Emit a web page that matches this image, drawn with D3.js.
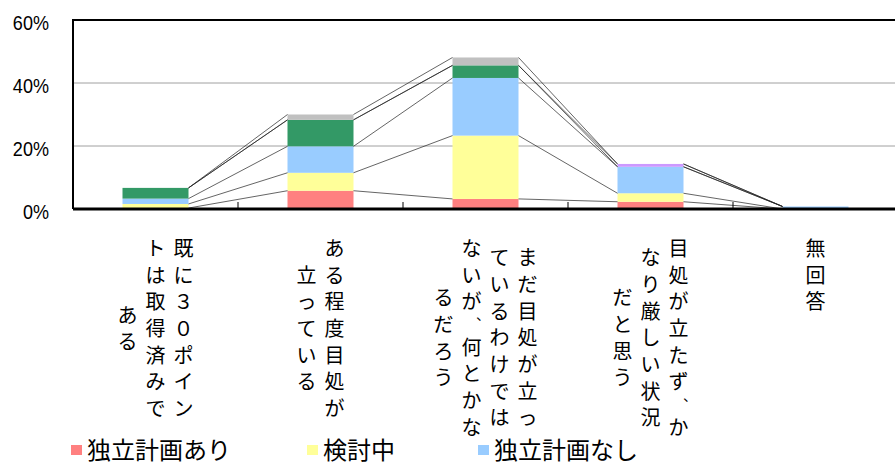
<!DOCTYPE html>
<html>
<head>
<meta charset="utf-8">
<script src="https://cdn.jsdelivr.net/npm/d3@7"></script>
<style>
  body { margin: 0; background: #fff; overflow: hidden; }
  svg { display: block; }
</style>
</head>
<body>
<div id="chart"></div>
<script>
// categories, with the column breaks used in the vertical labels
const categories = ["既に３０ポイントは取得済みである", "ある程度目処が立っている",
    "まだ目処が立っているわけではないが、何とかなるだろう", "目処が立たず、かなり厳しい状況だと思う", "無回答"];
const categoryColumns = [
    ["既に３０ポイン", "トは取得済みで", "ある"],
    ["ある程度目処が", "立っている"],
    ["まだ目処が立っ", "ているわけでは", "ないが、何とかな", "るだろう"],
    ["目処が立たず、か", "なり厳しい状況", "だと思う"],
    ["無回答"]
];

// series (percent), stacked bottom to top
const seriesNames = ["独立計画あり", "検討中", "独立計画なし", "その他", "わからない", "無回答"];
const seriesColors = ["#ff8080", "#ffff99", "#99ccff", "#339966", "#cc99ff", "#c0c0c0"];
const independentPlan = [0.3, 5.8, 3.2, 2.3, 0];
const underReview = [1.3, 5.7, 20.1, 2.7, 0];
const noIndependentPlan = [1.7, 8.4, 18.3, 8.4, 0.8];
const otherAnswer = [3.4, 8.4, 4.0, 0, 0];
const unknownAnswer = [0, 0, 0, 0.9, 0];
const noAnswer = [0, 1.7, 2.5, 0, 0];
const seriesValues = [independentPlan, underReview, noIndependentPlan, otherAnswer, unknownAnswer, noAnswer];

const yTicks = [0, 20, 40, 60];
// only the first legend row is inside the picture
const legendX = [71, 307, 478];

const width = 895, height = 465;
const plot = { left: 73, top: 20, right: 898, bottom: 209 };

const svg = d3.select('#chart').append('svg')
    .attr('width', width)
    .attr('height', height);

const x = d3.scaleBand().domain(categories).range([plot.left, plot.right]).padding(0);
const y = d3.scaleLinear().domain([0, 60]).range([plot.bottom, plot.top]);
const barW = x.bandwidth() * 0.4;

const rows = categories.map((c, i) => {
    const r = { cat: c };
    seriesNames.forEach((s, k) => { r[s] = seriesValues[k][i]; });
    return r;
});
const stacked = d3.stack().keys(seriesNames)(rows);

// gridlines
svg.append('g').selectAll('line')
    .data(yTicks.filter(t => t > 0 && t < 60))
    .enter().append('line')
    .attr('x1', plot.left).attr('x2', plot.right)
    .attr('y1', d => y(d)).attr('y2', d => y(d))
    .attr('stroke', '#a0a0a0').attr('stroke-width', 1);

// bars
const barX = c => x(c) + (x.bandwidth() - barW) / 2;
stacked.forEach((layer, k) => {
    svg.append('g').selectAll('rect')
        .data(layer)
        .enter().append('rect')
        .attr('x', d => barX(d.data.cat))
        .attr('width', barW)
        .attr('y', d => y(d[1]))
        .attr('height', d => Math.max(0, y(d[0]) - y(d[1])))
        .attr('fill', seriesColors[k]);
});

// series lines between neighbouring bars
const seriesLines = svg.append('g');
stacked.forEach(layer => {
    for (let i = 0; i < layer.length - 1; i++) {
        seriesLines.append('line')
            .attr('x1', barX(layer[i].data.cat) + barW)
            .attr('y1', y(layer[i][1]))
            .attr('x2', barX(layer[i + 1].data.cat))
            .attr('y2', y(layer[i + 1][1]))
            .attr('stroke', '#222')
            .attr('stroke-width', 0.7);
    }
});

// frame
svg.append('line')
    .attr('x1', plot.left).attr('x2', plot.right)
    .attr('y1', y(60)).attr('y2', y(60))
    .attr('stroke', '#000').attr('stroke-width', 2);
svg.append('line')
    .attr('x1', plot.left).attr('x2', plot.left)
    .attr('y1', y(60) - 1).attr('y2', y(0))
    .attr('stroke', '#000').attr('stroke-width', 2);

// x axis with inward ticks at the category boundaries
const xAxis = d3.axisBottom(x).tickSize(0).tickFormat('');
svg.append('g')
    .attr('transform', `translate(0,${plot.bottom})`)
    .call(xAxis)
    .call(g => g.select('.domain').attr('stroke', '#000').attr('stroke-width', 3).attr('d', `M${plot.left},0H${plot.right}`));
svg.append('g').selectAll('line')
    .data(categories)
    .enter().append('line')
    .attr('x1', d => x(d) + x.bandwidth()).attr('x2', d => x(d) + x.bandwidth())
    .attr('y1', plot.bottom).attr('y2', plot.bottom - 7)
    .attr('stroke', '#000').attr('stroke-width', 1);

// y labels
svg.append('g').selectAll('text')
    .data(yTicks)
    .enter().append('text')
    .attr('transform', d => `translate(49,${y(d) + 2}) scale(0.86,1)`)
    .attr('text-anchor', 'end')
    .attr('dominant-baseline', 'central')
    .style('font-family', '"Liberation Sans", Arial, sans-serif')
    .style('font-size', '21px')
    .text(d => d + '%');

// vertical category labels (columns run right to left)
const slot = 26.7, colGap = 28, labelTop = 234;
const isComma = ch => ch === '、';
const adv = ch => isComma(ch) ? 0.7 : 1;
const labels = svg.append('g')
    .style('font-family', '"Noto Sans CJK JP", sans-serif')
    .style('font-size', '20px');
categoryColumns.forEach((cols, i) => {
    const cx = x(categories[i]) + x.bandwidth() / 2;
    const lens = cols.map(c => Array.from(c).reduce((s, ch) => s + adv(ch), 0));
    const maxLen = d3.max(lens);
    cols.forEach((col, j) => {
        const colX = cx + (cols.length - 1) / 2 * colGap - j * colGap;
        let pos = labelTop + (maxLen - lens[j]) / 2 * slot;
        Array.from(col).forEach(ch => {
            const a = adv(ch) * slot;
            const t = labels.append('text')
                .attr('x', colX)
                .attr('y', pos + a / 2)
                .attr('text-anchor', 'middle')
                .attr('dominant-baseline', 'central')
                // vertical form of the ideographic comma sits top-right
                .text(isComma(ch) ? '\uFE11' : ch);
            if (isComma(ch)) t.attr('dx', 3).style('font-size', '14px');
            pos += a;
        });
    });
});

// legend
const legend = svg.append('g');
legendX.forEach((lx, k) => {
    legend.append('rect')
        .attr('x', lx).attr('y', 445)
        .attr('width', 11).attr('height', 10)
        .attr('fill', seriesColors[k]);
    legend.append('text')
        .attr('x', lx + 16).attr('y', 459)
        .style('font-family', '"Noto Sans CJK JP", sans-serif')
        .style('font-size', '24px')
        .text(seriesNames[k]);
});
</script>
</body>
</html>
